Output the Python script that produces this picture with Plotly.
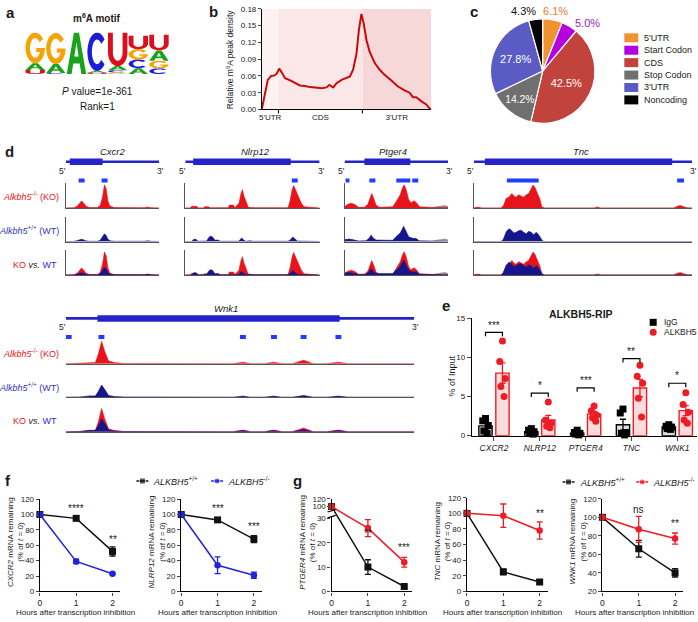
import numpy as np
import plotly.graph_objects as go

W, H = 698, 622
FONT = "Liberation Sans, Arial, Helvetica, sans-serif"
TXT = "#1a1a1a"

# ======================= DATA =======================
# (a) m6A motif logo: letters stacked bottom -> top, heights in bits
logo_letters = [["U", "A", "G"], ["C", "A", "G"], ["A"], ["U", "A", "C"],
                ["G", "C", "A", "U"], ["A", "C", "G", "U"], ["C", "G", "A", "U"]]
logo_bits = [[0.19, 0.33, 1.48], [0.05, 0.43, 1.50], [2.00], [0.06, 0.08, 1.86],
             [0.08, 0.10, 0.20, 1.62], [0.28, 0.42, 0.50, 0.65], [0.27, 0.37, 0.50, 0.75]]
logo_colors = {"A": "#1aa31a", "C": "#1c1cd9", "G": "#f5a300", "U": "#dc0f1e"}
motif_p = "1e-361"
motif_rank = 1

# (b) metagene density of m6A peaks
b_pos = [0.000, 0.016, 0.035, 0.055, 0.075, 0.088, 0.102, 0.118, 0.137, 0.167,
         0.196, 0.225, 0.255, 0.284, 0.314, 0.353, 0.382, 0.398, 0.422, 0.441,
         0.471, 0.500, 0.520, 0.539, 0.559, 0.573, 0.588, 0.602, 0.618, 0.637,
         0.667, 0.696, 0.725, 0.765, 0.804, 0.843, 0.873, 0.892, 0.912, 0.941,
         0.971, 0.996]
b_density = [0.001, 0.024, 0.053, 0.060, 0.061, 0.064, 0.073, 0.066, 0.056, 0.052,
             0.047, 0.043, 0.042, 0.040, 0.0395, 0.038, 0.0395, 0.044, 0.0395, 0.047,
             0.053, 0.056, 0.059, 0.071, 0.100, 0.142, 0.171, 0.153, 0.124, 0.103,
             0.083, 0.071, 0.062, 0.052, 0.041, 0.034, 0.030, 0.022, 0.022, 0.015,
             0.009, 0.000]
b_edges = [0.0, 0.098, 0.594, 1.0]
b_regions = ["5'UTR", "CDS", "3'UTR"]
b_yticks = [0.00, 0.03, 0.06, 0.09, 0.12, 0.15, 0.18]

# (c) peak distribution
c_labels = ["5'UTR", "Start Codon", "CDS", "Stop Codon", "3'UTR", "Noncoding"]
c_values = [6.1, 5.0, 42.5, 14.2, 27.8, 4.3]

# (d) IGV-like tracks (positions in % of window, coverage relative to track height)
d_genes = ["Cxcr2", "Nlrp12", "Ptger4", "Tnc", "Wnk1"]
d_cds = [(4.3, 39.4), (5.9, 78.5), (19.2, 63.5), (5.0, 90.9), (9.1, 78.6)]
d_peaks = [[(13.8, 20.2), (38.3, 44.7)],
           [(79.3, 83.7)],
           [(1.0, 4.8), (24.0, 29.8), (50.0, 63.5), (65.4, 71.2)],
           [(15.1, 29.7), (93.2, 96.3)],
           [(0.0, 1.7), (9.4, 11.1), (50.0, 51.7), (58.9, 60.6), (67.4, 69.1), (77.4, 79.1)]]
d_ko_pos = [
    [0, 8.9, 12.5, 15.0, 16.8, 18.9, 21.4, 25.0, 33.9, 36.8, 39.3, 41.4, 43.2, 45.0, 47.1, 51.8, 83.9, 87.5, 91.1, 100],
    [0, 3.7, 4.9, 8.6, 9.9, 13.6, 14.3, 17.3, 18.5, 32.1, 32.8, 35.8, 37.0, 40.0, 41.5, 42.5, 43.7, 45.7, 46.9, 51.9,
     76.5, 78.0, 79.5, 80.7, 82.5, 84.4, 86.4, 88.4, 100],
    [0, 2.6, 6.4, 10.3, 13.5, 19.2, 22.4, 25.0, 26.3, 28.2, 30.4, 33.7, 46.5, 49.7, 53.8, 56.1, 57.7, 59.6, 61.9, 64.1,
     67.3, 69.9, 72.4, 86.5, 100],
    [0, 1.1, 2.6, 3.3, 12.5, 13.5, 14.8, 16.0, 17.4, 18.3, 19.3, 20.5, 21.6, 22.8, 24.0, 25.1, 26.2, 27.1, 28.0, 29.2,
     30.3, 31.1, 32.3, 55.1, 56.6, 58.1, 91.6, 93.5, 94.7, 96.2, 97.7, 100],
    [0, 4, 6.9, 8.5, 9.3, 10.3, 11.2, 12.3, 14, 16.5, 48, 50.9, 53, 57, 59.7, 62, 65, 68.3, 71, 75, 78.2, 81, 100]]
d_ko_cov = [
    [0, .01, .08, .22, .29, .22, .08, .02, .02, .10, .45, .96, .80, .30, .08, .02, .01, .04, .01, 0],
    [0, 0, .07, .07, 0, 0, .05, .05, .01, .01, .12, .12, .02, .20, .60, .76, .50, .15, .03, .01,
     .01, .30, .75, .93, .70, .40, .20, .05, 0],
    [.05, .15, .20, .14, .03, .03, .15, .45, .60, .40, .12, .03, .05, .25, .55, .85, .96, .75, .35, .22,
     .30, .20, .05, .02, .02],
    [0, .03, .03, 0, 0, .10, .40, .45, .60, .50, .45, .55, .50, .45, .55, .60, .80, .95, .85, .60,
     .35, .05, 0, 0, .04, 0, 0, .08, .10, .05, .01, 0],
    [0, .01, .05, .05, .40, 1.0, .55, .12, .05, .01, 0, .07, 0, 0, .07, 0, 0, .16, 0, 0, .07, 0, 0]]
d_wt_pos = [
    d_ko_pos[0],
    [0, 4.9, 6.2, 8.1, 9.4, 16.0, 17.3, 18.5, 20.2, 22.2, 23.5, 25.2, 25.9, 39.5, 41.0, 42.0, 43.5, 44.9, 48.1, 50.6,
     76.5, 78.5, 80.0, 81.5, 83.5, 100],
    [0, 4.8, 9.6, 13.5, 20.8, 24.0, 25.6, 27.6, 30.4, 35.3, 40.1, 46.5, 49.7, 53.8, 57.1, 59.0, 61.9, 65.7, 68.9, 72.1, 100],
    [0, 12.5, 13.5, 14.8, 16.0, 17.0, 18.3, 19.3, 20.5, 21.6, 22.8, 24.0, 25.1, 26.2, 27.4, 28.5, 29.5, 30.7, 31.5, 32.6, 100],
    d_ko_pos[4]]
d_wt_cov = [
    [0, .005, .04, .08, .09, .07, .03, .01, .01, .05, .20, .32, .25, .10, .03, .01, .01, .03, .01, 0],
    [0, 0, .09, .09, .01, .02, .15, .22, .20, .05, .06, .05, .01, .01, .08, .15, .06, .01, .03, .01,
     .01, .08, .19, .12, .02, 0],
    [.08, .10, .06, .02, .03, .15, .27, .15, .06, .06, .03, .05, .20, .35, .63, .45, .20, .13, .13, .03, 0],
    [0, 0, .10, .40, .53, .48, .35, .38, .45, .47, .38, .32, .42, .38, .28, .38, .30, .15, .02, 0, 0],
    [0, .01, .06, .06, .25, .55, .35, .08, .03, .01, 0, .05, 0, 0, .05, 0, 0, .08, 0, 0, .05, 0, 0]]
d_input_pos = [[0, 100], [0, 100], [0, 4, 9, 14, 84, 88, 93, 97, 100], [0, 100], [0, 100]]
d_input_cov = [[0, 0], [0, 0], [.05, .06, .05, .01, .01, .05, .10, .11, .06], [0, 0], [0, 0]]

# (e) ALKBH5-RIP
e_genes = ["CXCR2", "NLRP12", "PTGER4", "TNC", "WNK1"]
e_igg_mean = [1.25, 0.50, 0.30, 1.40, 1.10]
e_igg_sem = [0.45, 0.15, 0.12, 0.70, 0.12]
e_igg_pts = [[2.2, 1.9, 1.3, 0.6, 0.3], [0.9, 0.7, 0.5, 0.3, 0.2], [0.7, 0.4, 0.3, 0.2, 0.1],
             [3.4, 2.9, 0.4, 0.3, 0.1], [1.4, 1.2, 1.1, 0.9, 0.8]]
e_alk_mean = [8.0, 2.0, 2.75, 6.1, 3.2]
e_alk_sem = [1.3, 0.6, 0.35, 1.1, 0.65]
e_alk_pts = [[12.1, 9.5, 7.3, 6.3, 5.0], [4.3, 2.0, 1.6, 1.2, 1.0], [3.8, 3.2, 2.6, 2.3, 1.85],
             [9.0, 7.6, 6.7, 4.8, 2.4], [5.5, 4.0, 3.0, 2.0, 1.6]]
e_sig = ["***", "*", "***", "**", "*"]
e_sig_y = [13.2, 5.45, 6.1, 9.85, 6.7]
e_yticks = [0, 5, 10, 15]

# (f)/(g) mRNA decay
t_hours = [0, 1, 2]
f_cxcr2_wt, f_cxcr2_wt_sem = [100, 95, 52], [0, 2.5, 6]
f_cxcr2_ko, f_cxcr2_ko_sem = [100, 39, 23], [0, 3, 1]
f_cxcr2_sig, f_cxcr2_sig_y = ["", "****", "**"], [0, 108, 68]
f_nlrp12_wt, f_nlrp12_wt_sem = [100, 93, 68], [0, 2.5, 4.5]
f_nlrp12_ko, f_nlrp12_ko_sem = [100, 34, 21], [0, 11, 4]
f_nlrp12_sig, f_nlrp12_sig_y = ["", "***", "***"], [0, 108, 85]
g_ptger4_wt, g_ptger4_wt_sem = [100, 10, 2], [0, 3, 0.8]
g_ptger4_ko, g_ptger4_ko_sem = [100, 26, 12], [0, 3.5, 2]
g_ptger4_sig, g_ptger4_sig_y = ["", "**", "***"], [0, 33, 18]
g_tnc_wt, g_tnc_wt_sem = [100, 25, 12], [0, 3.5, 3]
g_tnc_ko, g_tnc_ko_sem = [100, 97, 78], [0, 15, 11]
g_tnc_sig, g_tnc_sig_y = ["", "**", "**"], [0, 121, 100]
g_wnk1_wt, g_wnk1_wt_sem = [100, 66, 40], [0, 9, 4.5]
g_wnk1_ko, g_wnk1_ko_sem = [100, 87, 77], [0, 14, 6]
g_wnk1_sig, g_wnk1_sig_y = ["", "ns", "**"], [0, 108, 93]

# ======================= FIGURE =======================
fig = go.Figure()
layout_axes = {}
annotations = []
shapes = []
_n = [0]


def add_axes(x0, x1, ytop, ybot, xkw=None, ykw=None):
    _n[0] += 1
    n = _n[0]
    s = '' if n == 1 else str(n)
    base = dict(showgrid=False, zeroline=False, fixedrange=True)
    xa = dict(base, domain=[max(0, x0 / W), min(1, x1 / W)], anchor='y' + s)
    ya = dict(base, domain=[max(0, 1 - ybot / H), min(1, 1 - ytop / H)], anchor='x' + s)
    xa.update(xkw or {})
    ya.update(ykw or {})
    layout_axes['xaxis' + s] = xa
    layout_axes['yaxis' + s] = ya
    return 'x' + s, 'y' + s


def ann_px(x, y, text, size=9, color=TXT, xanchor='center', yanchor='middle', angle=0):
    annotations.append(dict(x=x / W, y=1 - y / H, xref='paper', yref='paper', text=text, showarrow=False,
                            font=dict(size=size, color=color, family=FONT), xanchor=xanchor,
                            yanchor=yanchor, textangle=angle, borderpad=0))


def ann_data(xr, yr, x, y, text, size=9, color=TXT, xanchor='center', yanchor='middle'):
    annotations.append(dict(x=x, y=y, xref=xr, yref=yr, text=text, showarrow=False,
                            font=dict(size=size, color=color, family=FONT), xanchor=xanchor,
                            yanchor=yanchor, borderpad=0))


HID = dict(visible=False)

# ---------- panel labels ----------
for lab, (lx, ly) in zip("abcdefg", [(2, 9), (206, 8), (468, 8), (1, 150), (440, 306), (1, 483), (290, 484)]):
    ann_px(lx, ly, "<b>%s</b>" % lab, size=15, xanchor='left')

# ---------- (a) logo ----------
def _arc(cx, cy, rx, ry, a0, a1, n=28):
    t = np.radians(np.linspace(a0, a1, n))
    return list(zip(cx + rx * np.cos(t), cy + ry * np.sin(t)))


GLYPHS = {
    "C": [_arc(.5, .5, .5, .5, 40, 320) + _arc(.5, .5, .27, .32, 320, 40)],
    "G": [_arc(.5, .5, .5, .5, 35, 360) + [(1.0, 0.5), (0.55, 0.5), (0.55, 0.365)] + _arc(.5, .5, .27, .32, 335, 35)],
    "U": [[(0, 1), (0.25, 1)] + _arc(.5, .4, .25, .24, 180, 360) + [(0.75, 1), (1, 1)] + _arc(.5, .4, .5, .4, 360, 180)],
    "A": [[(0, 0), (0.37, 1), (0.63, 1), (1, 0), (0.75, 0), (0.665, 0.25), (0.335, 0.25), (0.25, 0)],
          [(0.39, 0.42), (0.61, 0.42), (0.5, 0.76)]],
}

xa_logo, ya_logo = add_axes(22, 167, 29, 71, dict(HID, range=[0.5, 7.5]), dict(HID, range=[0, 2]))
for i, (lets, bits) in enumerate(zip(logo_letters, logo_bits)):
    xc = i + 1
    y0 = 0.0
    for let, h in zip(lets, bits):
        parts = []
        for poly in GLYPHS[let]:
            pts = [(xc - 0.47 + u * 0.94, y0 + v * h) for u, v in poly]
            parts.append("M" + " L".join("%.4f,%.4f" % p for p in pts) + " Z")
        shapes.append(dict(type='path', path=" ".join(parts), xref=xa_logo, yref=ya_logo,
                           fillcolor=logo_colors[let], line=dict(width=0), fillrule='evenodd', layer='above'))
        y0 += h
ann_px(94, 14, "<b>m<sup>6</sup>A motif</b>", size=10)
ann_px(95, 89, "<i>P</i> value=%s" % motif_p, size=10)
ann_px(95, 104, "Rank=%d" % motif_rank, size=10)

# ---------- (b) metagene ----------
b_fill = ["#fdf2f2", "#fbe7e7", "#f6d8d8"]
xb, yb = add_axes(260, 430, 5, 107,
                  dict(range=[0, 1], showline=True, linecolor='black', linewidth=1,
                       tickvals=[(b_edges[i] + b_edges[i + 1]) / 2 for i in range(3)], ticktext=b_regions,
                       ticks='', tickfont=dict(size=8)),
                  dict(range=[0, 0.18], showline=True, linecolor='black', linewidth=1, ticks='outside',
                       ticklen=3, tickvals=b_yticks, tickformat='.2f', tickfont=dict(size=8)))
for i in range(3):
    shapes.append(dict(type='rect', xref=xb, yref=yb + ' domain', x0=b_edges[i], x1=b_edges[i + 1], y0=0, y1=1,
                       fillcolor=b_fill[i], line=dict(width=0), layer='below'))
for e in b_edges[1:-1]:
    shapes.append(dict(type='line', xref=xb, yref=yb + ' domain', x0=e, x1=e, y0=0, y1=-0.04,
                       line=dict(color='black', width=1)))
fig.add_trace(go.Scatter(x=b_pos, y=b_density, xaxis=xb, yaxis=yb, mode='lines',
                         line=dict(color='#c80a0a', width=2), hoverinfo='skip', showlegend=False))
ann_px(228, 56, "Relative m<sup>6</sup>A peak density", size=8.5, angle=-90)

# ---------- (c) pie ----------
c_colors = ["#f0922f", "#b700de", "#c1433b", "#6f6f6f", "#5b5bc4", "#050505"]
c_textpos = ["none", "none", "inside", "inside", "inside", "none"]
fig.add_trace(go.Pie(labels=c_labels, values=c_values, sort=False, direction='clockwise', rotation=0,
                     marker=dict(colors=c_colors, line=dict(color='white', width=1.2)),
                     texttemplate='%{value:.1f}%', textposition=c_textpos,
                     textfont=dict(size=11, color='white', family=FONT),
                     insidetextorientation='horizontal', showlegend=False, hoverinfo='skip',
                     domain=dict(x=[488 / W, 596 / W], y=[1 - 121 / H, 1 - 15 / H])))
# outside labels for the three small slices
for idx, (lx, ly, col) in zip([0, 1, 5], [(555, 7, "#f0782a"), (587, 19, "#a020c0"), (523, 7, "#111111")]):
    ann_px(lx, ly, "%.1f%%" % c_values[idx], size=11, color=col)

# ---------- (d) tracks ----------
KO_C, WT_C, IN_C = "#e8141c", "#16168c", "#9a9a9a"
GENE_C, PEAK_C = "#2424c8", "#1f3dff"
d_xdom = [(63, 157), (183, 318), (343, 447), (473, 692), (63, 413)]
d_line_y = [160, 160, 160, 160, 319]
d_bar_y = [179, 179, 179, 179, 338]
d_rows = [[(182, 207), (216, 241), (250, 275)]] * 4 + [[(342, 365), (376, 399), (410, 434)]]
d_name_frac = [0.5, 0.52, 0.47, 0.49, 0.46]

for gi, g in enumerate(d_genes):
    x0, x1 = d_xdom[gi]
    ly, by = d_line_y[gi], d_bar_y[gi]
    ppu = by - ly
    xh, yh = add_axes(x0, x1, ly - 6, by + 4, dict(HID, range=[0, 100]),
                      dict(HID, range=[-4 / ppu, 1 + 6 / ppu]))
    fig.add_trace(go.Scatter(x=[0, 100], y=[1, 1], xaxis=xh, yaxis=yh, mode='lines',
                             line=dict(color=GENE_C, width=2.6), hoverinfo='skip', showlegend=False))
    c0, c1 = d_cds[gi]
    fig.add_trace(go.Scatter(x=[c0, c1], y=[1, 1], xaxis=xh, yaxis=yh, mode='lines',
                             line=dict(color=GENE_C, width=6.5), hoverinfo='skip', showlegend=False))
    for p0, p1 in d_peaks[gi]:
        fig.add_trace(go.Scatter(x=[p0, p1], y=[0, 0], xaxis=xh, yaxis=yh, mode='lines',
                                 line=dict(color=PEAK_C, width=4), hoverinfo='skip', showlegend=False))
    ann_px(x0 + d_name_frac[gi] * (x1 - x0), ly - 10, "<i>%s</i>" % g, size=9.5)
    ann_px(x0 - 3, ly + 9, "5'", size=8.5)
    ann_px(x1 + 1.5, ly + 9, "3'", size=8.5)

    for ri, (yt, ybt) in enumerate(d_rows[gi]):
        xt, yt_ = add_axes(x0, x1, yt, ybt,
                           dict(range=[0, 100], showline=True, linecolor='#555555', linewidth=1,
                                showticklabels=False, ticks=''),
                           dict(range=[0, 1.02], showline=(gi != 4), linecolor='#555555', linewidth=1,
                                showticklabels=False, ticks=''))
        fig.add_trace(go.Scatter(x=d_input_pos[gi], y=d_input_cov[gi], xaxis=xt, yaxis=yt_, mode='lines',
                                 fill='tozeroy', fillcolor=IN_C, line=dict(color=IN_C, width=0.5),
                                 hoverinfo='skip', showlegend=False))
        if ri in (0, 2):
            fig.add_trace(go.Scatter(x=d_ko_pos[gi], y=d_ko_cov[gi], xaxis=xt, yaxis=yt_, mode='lines',
                                     fill='tozeroy', fillcolor=KO_C, line=dict(color=KO_C, width=0.6),
                                     hoverinfo='skip', showlegend=False))
        if ri in (1, 2):
            fig.add_trace(go.Scatter(x=d_wt_pos[gi], y=d_wt_cov[gi], xaxis=xt, yaxis=yt_, mode='lines',
                                     fill='tozeroy', fillcolor=WT_C, line=dict(color=WT_C, width=0.6),
                                     hoverinfo='skip', showlegend=False))

for ys in [(195, 229, 265), (354, 389, 423)]:
    ann_px(57, ys[0], "<i>Alkbh5</i><sup>-/-</sup> (KO)", size=9, color=KO_C, xanchor='right')
    ann_px(57, ys[1], "<i>Alkbh5</i><sup>+/+</sup> (WT)", size=9, color="#3434b4", xanchor='right')
    ann_px(55, ys[2], "<span style='color:%s'>KO</span> <i>vs.</i> <span style='color:#2a2ad0'>WT</span>" % KO_C,
           size=9, xanchor='right')

# ---------- (e) RIP bars ----------
e_x = list(range(len(e_genes)))
OFF = 0.185
BW = 0.29
xe, ye = add_axes(471, 697, 319, 438,
                  dict(range=[-0.48, 4.43], showline=True, linecolor='black', linewidth=1.4, ticks='outside',
                       ticklen=4, tickwidth=1.2, tickvals=e_x, ticktext=["<i>%s</i>" % g for g in e_genes],
                       tickfont=dict(size=8.5)),
                  dict(range=[0, 15], showline=True, linecolor='black', linewidth=1.4, ticks='outside',
                       ticklen=4, tickwidth=1.2, tickvals=e_yticks, tickfont=dict(size=8)))
fig.add_trace(go.Bar(x=e_x, y=e_igg_mean, xaxis=xe, yaxis=ye, offset=-OFF - BW / 2, width=BW,
                     marker=dict(color='#dcdcdc', line=dict(color='black', width=1.4)),
                     error_y=dict(type='data', array=e_igg_sem, color='black', thickness=1.3, width=3),
                     hoverinfo='skip', showlegend=False))
fig.add_trace(go.Bar(x=e_x, y=e_alk_mean, xaxis=xe, yaxis=ye, offset=OFF - BW / 2, width=BW,
                     marker=dict(color='#fbdcdc', line=dict(color='#ee1c25', width=1.4)),
                     error_y=dict(type='data', array=e_alk_sem, color='#ee1c25', thickness=1.3, width=3),
                     hoverinfo='skip', showlegend=False))
spread = [0.0, -0.06, 0.06, -0.035, 0.035]
px_i, py_i, px_a, py_a = [], [], [], []
for i in e_x:
    for k, v in enumerate(e_igg_pts[i]):
        px_i.append(i - OFF + spread[k]); py_i.append(v)
    for k, v in enumerate(e_alk_pts[i]):
        px_a.append(i + OFF + spread[k]); py_a.append(v)
fig.add_trace(go.Scatter(x=px_i, y=py_i, xaxis=xe, yaxis=ye, mode='markers', cliponaxis=False,
                         marker=dict(symbol='square', size=7, color='black'), hoverinfo='skip', showlegend=False))
fig.add_trace(go.Scatter(x=px_a, y=py_a, xaxis=xe, yaxis=ye, mode='markers', cliponaxis=False,
                         marker=dict(symbol='circle', size=7, color='#ee1c25'), hoverinfo='skip', showlegend=False))
for i, (s, yv) in enumerate(zip(e_sig, e_sig_y)):
    shapes.append(dict(type='path', xref=xe, yref=ye,
                       path="M%.3f,%.3f L%.3f,%.3f L%.3f,%.3f L%.3f,%.3f" % (
                           i - OFF, yv - 0.5, i - OFF, yv, i + OFF, yv, i + OFF, yv - 0.5),
                       line=dict(color='black', width=1.2)))
    ann_data(xe, ye, i, yv + 0.1, s, size=10, yanchor='bottom')
ann_px(580, 315, "<b>ALKBH5-RIP</b>", size=10.5)
ann_px(450, 378, "% of Input", size=9, angle=-90)

# ---------- (f)/(g) decay curves ----------
def brk(v):
    return v if v <= 31 else 34.8 + (v - 100) * 0.163


def time_plot(x0, ytop, ybot, yr, yticks, series, sig, sig_y, label, tf=lambda v: v, yticktext=None):
    xa, ya = add_axes(x0, x0 + 81, ytop, ybot,
                      dict(range=[0, 2.22], showline=True, linecolor='black', linewidth=1.3, ticks='outside',
                           ticklen=3, tickwidth=1.2, tickvals=t_hours, tickfont=dict(size=8.5)),
                      dict(range=yr, showline=True, linecolor='black', linewidth=1.3, ticks='outside',
                           ticklen=3, tickwidth=1.2, tickvals=[tf(v) for v in yticks],
                           ticktext=yticktext if yticktext else [str(v) for v in yticks], tickfont=dict(size=8)))
    for vals, sem, col, sym, sz in series:
        fig.add_trace(go.Scatter(x=t_hours, y=[tf(v) for v in vals], xaxis=xa, yaxis=ya, mode='lines+markers',
                                 line=dict(color=col, width=1.5), marker=dict(symbol=sym, size=sz, color=col),
                                 error_y=dict(type='data', array=sem, color=col, thickness=1.3, width=3),
                                 cliponaxis=False, hoverinfo='skip', showlegend=False))
    for t, s, yv in zip(t_hours, sig, sig_y):
        if s:
            ann_data(xa, ya, t, tf(yv), s, size=10)
    ann_px(x0 - 25, 546, "<i>%s</i> mRNA remaining<br>(%% of <i>t</i> = 0)" % label, size=8, angle=-90)
    ann_px(min(x0 + 36, 634), 617, "Hours after transcription inhibition", size=8)
    return xa, ya


BLK, BLU, RED = "#111111", "#2323dc", "#ee1c25"
time_plot(37, 502.4, 596, [0, 120], [0, 20, 40, 60, 80, 100, 120],
          [(f_cxcr2_wt, f_cxcr2_wt_sem, BLK, 'square', 7), (f_cxcr2_ko, f_cxcr2_ko_sem, BLU, 'circle', 6.5)],
          f_cxcr2_sig, f_cxcr2_sig_y, "CXCR2")
time_plot(179, 502.4, 596, [0, 120], [0, 20, 40, 60, 80, 100, 120],
          [(f_nlrp12_wt, f_nlrp12_wt_sem, BLK, 'square', 7), (f_nlrp12_ko, f_nlrp12_ko_sem, BLU, 'circle', 6.5)],
          f_nlrp12_sig, f_nlrp12_sig_y, "NLRP12")
xg1, yg1 = time_plot(330, 502, 596, [0, brk(120)], [0, 10, 20, 30, 100, 120],
                     [(g_ptger4_wt, g_ptger4_wt_sem, BLK, 'square', 7),
                      (g_ptger4_ko, g_ptger4_ko_sem, RED, 'circle', 6.5)],
                     g_ptger4_sig, g_ptger4_sig_y, "PTGER4", tf=brk)
# axis break marks on the broken y axis
shapes.append(dict(type='rect', xref=xg1 + ' domain', yref=yg1, x0=-0.04, x1=0.03, y0=30.6, y1=33.4,
                   fillcolor='white', line=dict(width=0), layer='above'))
for yb0 in (30.2, 32.6):
    shapes.append(dict(type='line', xref=xg1 + ' domain', yref=yg1, x0=-0.05, x1=0.05, y0=yb0, y1=yb0 + 1.0,
                       line=dict(color='black', width=1.2)))
time_plot(466, 501, 596, [0, 120], [0, 20, 40, 60, 80, 100, 120],
          [(g_tnc_wt, g_tnc_wt_sem, BLK, 'square', 7), (g_tnc_ko, g_tnc_ko_sem, RED, 'circle', 6.5)],
          g_tnc_sig, g_tnc_sig_y, "TNC")
time_plot(602, 502, 596, [20, 120], [20, 40, 60, 80, 100, 120],
          [(g_wnk1_wt, g_wnk1_wt_sem, BLK, 'square', 7), (g_wnk1_ko, g_wnk1_ko_sem, RED, 'circle', 6.5)],
          g_wnk1_sig, g_wnk1_sig_y, "WNK1")

# ---------- manual legends on a page-pixel overlay axis ----------
xp, yp = add_axes(0, W, 0, H, dict(HID, range=[0, W]), dict(HID, range=[H, 0]))
for i, (lab, col) in enumerate(zip(c_labels, c_colors)):
    yy = 34.3 + 12.6 * i
    fig.add_trace(go.Scatter(x=[624, 638], y=[yy, yy], xaxis=xp, yaxis=yp, mode='lines',
                             line=dict(color=col, width=9), hoverinfo='skip', showlegend=False))
    ann_px(643, yy, lab, size=9, xanchor='left')
for yy, sym, col, lab in [(323, 'square', 'black', 'IgG'), (333, 'circle', '#ee1c25', 'ALKBH5')]:
    fig.add_trace(go.Scatter(x=[653], y=[yy], xaxis=xp, yaxis=yp, mode='markers',
                             marker=dict(symbol=sym, size=7, color=col), hoverinfo='skip', showlegend=False))
    ann_px(663, yy, lab, size=8.5, xanchor='left')
for (mx, tx, yy, col, sym, sup) in [(140, 150, 484, BLK, 'square', '+/+'), (215, 225, 484, BLU, 'circle', '-/-'),
                                     (568, 578, 485, BLK, 'square', '+/+'), (642, 652, 485, RED, 'circle', '-/-')]:
    fig.add_trace(go.Scatter(x=[mx - 6, mx, mx + 6], y=[yy, yy, yy], xaxis=xp, yaxis=yp, mode='lines+markers',
                             line=dict(color=col, width=1.5), marker=dict(symbol=sym, size=[0, 6, 0], color=col),
                             hoverinfo='skip', showlegend=False))
    ann_px(tx, yy, "<i>ALKBH5</i><sup>%s</sup>" % sup, size=9, xanchor='left')

fig.update_layout(width=W, height=H, margin=dict(l=0, r=0, t=0, b=0), paper_bgcolor='white',
                  plot_bgcolor='rgba(0,0,0,0)', showlegend=False, barmode='overlay',
                  font=dict(family=FONT, size=9, color=TXT), annotations=annotations, shapes=shapes,
                  **layout_axes)
fig.write_html("out.html", config={'displayModeBar': False},
               post_script="document.body.style.margin='0px';document.body.style.padding='0px';")
